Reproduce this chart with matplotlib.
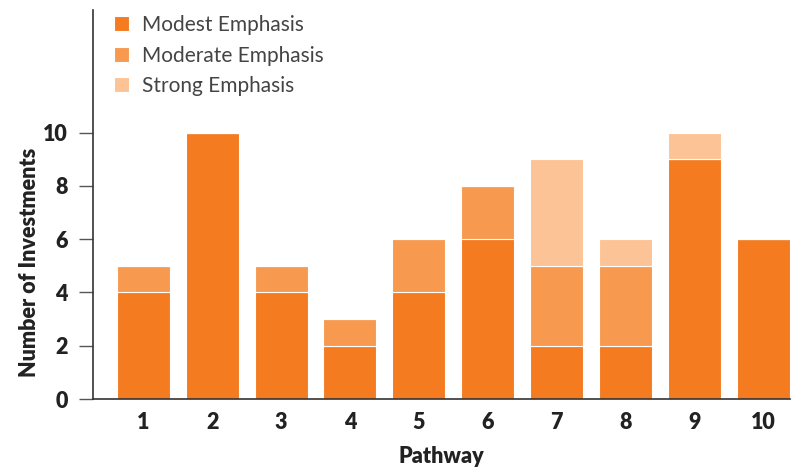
import numpy as np
import matplotlib.pyplot as plt

pathways = ['1', '2', '3', '4', '5', '6', '7', '8', '9', '10']
modest = [4, 10, 4, 2, 4, 6, 2, 2, 9, 6]
moderate = [1, 0, 1, 1, 2, 2, 3, 3, 0, 0]
strong = [0, 0, 0, 0, 0, 0, 4, 1, 1, 0]

kleuren = ['#F47B20', '#F7994F', '#FCC496']
labels = ['Modest Emphasis', 'Moderate Emphasis', 'Strong Emphasis']

plt.rcParams['font.family'] = ['Lato', 'DejaVu Sans']

fig = plt.figure(figsize=(7.92, 4.69), dpi=100)
ax = fig.add_axes([93/792, 70/469, 697/792, 389/469])

x = np.arange(1, len(pathways) + 1)
w = 0.77
onder = np.zeros(len(x))
for waarden, kleur, label in zip([modest, moderate, strong], kleuren, labels):
    waarden = np.array(waarden)
    ax.bar(x, waarden, w, bottom=onder, color=kleur, edgecolor='white',
           linewidth=0.8, label=label)
    onder += waarden

ax.set_xlim(0.27, 10.39)
ax.set_ylim(0, 14.6)
ax.set_yticks([0, 2, 4, 6, 8, 10])
ax.set_xticks(x)
ax.set_xticklabels(pathways)
for s in ['top', 'right']:
    ax.spines[s].set_visible(False)
for s in ['left', 'bottom']:
    ax.spines[s].set_color('#333333')
    ax.spines[s].set_linewidth(1.2)
ax.tick_params(axis='y', length=10, width=1, color='#555555', labelsize=15.5, pad=8)
ax.tick_params(axis='x', length=0, labelsize=15.5, pad=9)
for t in ax.get_xticklabels() + ax.get_yticklabels():
    t.set_fontweight('heavy')
    t.set_color('#222222')

ax.set_xlabel('Pathway', fontsize=15.5, fontweight='heavy', color='#222222', labelpad=10)
ax.set_ylabel('Number of Investments', fontsize=15.5, fontweight='heavy', color='#222222', labelpad=0)
ax.yaxis.set_label_coords(-0.076, 0.352)

leg = ax.legend(loc='upper left', bbox_to_anchor=(0.003, 1.035), frameon=False,
                fontsize=15, handlelength=0.75, handleheight=0.75, handletextpad=0.6,
                labelspacing=0.5)
for t in leg.get_texts():
    t.set_color('#444444')

fig.savefig('out.png', dpi=100)
